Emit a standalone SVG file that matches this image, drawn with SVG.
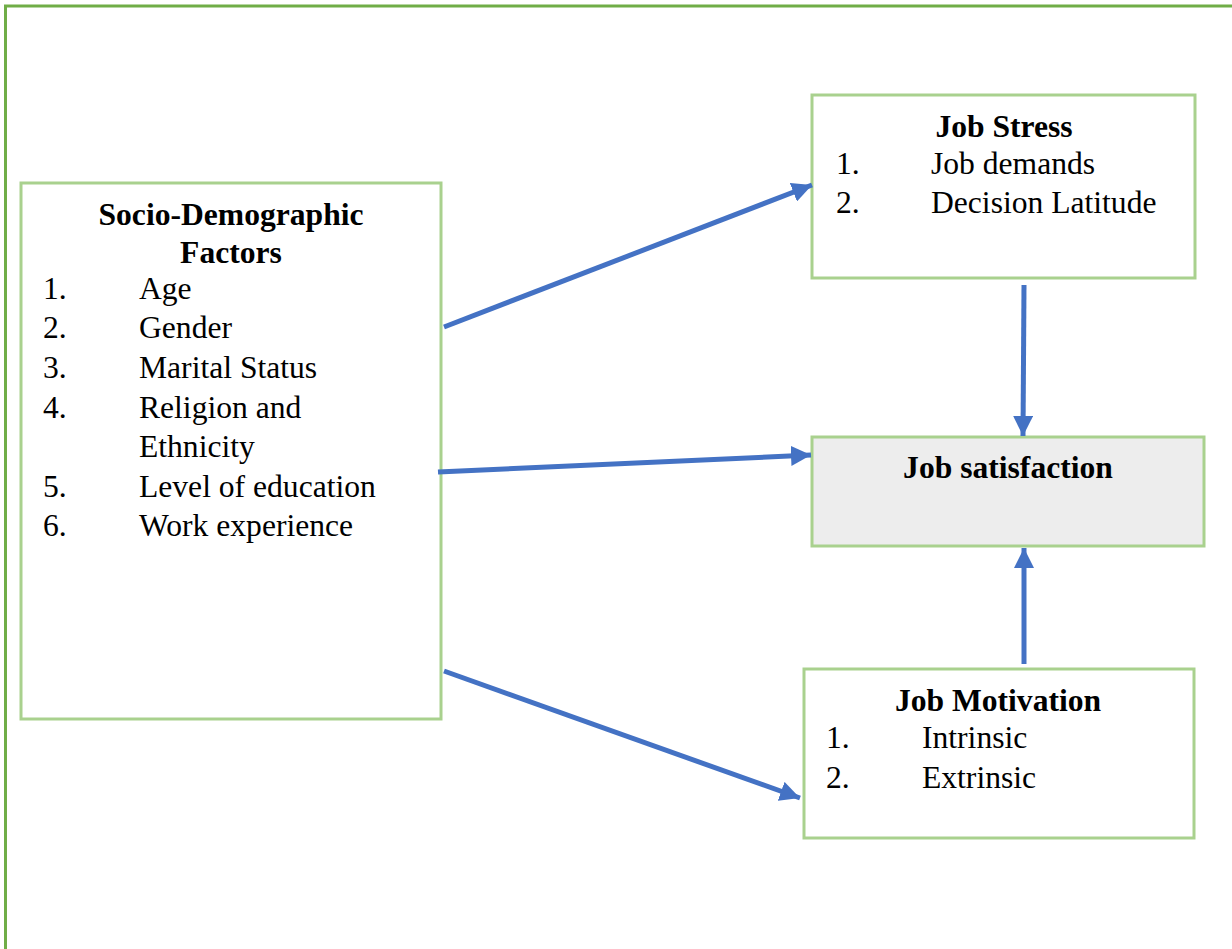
<svg xmlns="http://www.w3.org/2000/svg" width="1232" height="949" viewBox="0 0 1232 949">
<style>
.box{fill:#ffffff;stroke:#A9D18E;stroke-width:3}
.t{font-family:"Liberation Serif","Times New Roman",serif;font-size:31.6px;fill:#000}
.b{font-weight:bold}
.c{text-anchor:middle}
.arr{stroke:#4472C4;stroke-width:5;fill:none;marker-end:url(#ah)}
</style>
<defs>
<marker id="ah" markerUnits="userSpaceOnUse" markerWidth="24" markerHeight="20" refX="20" refY="10" orient="auto">
<path d="M0,0 L20,10 L0,20 Z" fill="#4472C4"/>
</marker>
</defs>
<rect width="1232" height="949" fill="#ffffff"/>
<path d="M5.5,949 L5.5,6 L1232,6" fill="none" stroke="#70AD47" stroke-width="3"/>
<g id="socio">
<rect class="box" x="21" y="183" width="420" height="536"/>
<text class="t b c" x="231" y="225">Socio-Demographic</text>
<text class="t b c" x="231" y="263">Factors</text>
<text class="t" x="43" y="299">1.</text><text class="t" x="139" y="299">Age</text>
<text class="t" x="43" y="338">2.</text><text class="t" x="139" y="338">Gender</text>
<text class="t" x="43" y="378">3.</text><text class="t" x="139" y="378">Marital Status</text>
<text class="t" x="43" y="418">4.</text><text class="t" x="139" y="418">Religion and</text>
<text class="t" x="139" y="457">Ethnicity</text>
<text class="t" x="43" y="497">5.</text><text class="t" x="139" y="497">Level of education</text>
<text class="t" x="43" y="536">6.</text><text class="t" x="139" y="536">Work experience</text>
</g>
<g id="stress">
<rect class="box" x="812" y="95" width="383" height="183"/>
<text class="t b c" x="1004" y="137">Job Stress</text>
<text class="t" x="836" y="174">1.</text><text class="t" x="931" y="174">Job demands</text>
<text class="t" x="836" y="213">2.</text><text class="t" x="931" y="213">Decision Latitude</text>
</g>
<g id="satisfaction">
<rect class="box" x="812" y="437" width="392" height="109" style="fill:#EDEDED"/>
<text class="t b c" x="1008" y="478">Job satisfaction</text>
</g>
<g id="motivation">
<rect class="box" x="804" y="669" width="390" height="169"/>
<text class="t b c" x="998" y="711">Job Motivation</text>
<text class="t" x="826" y="748">1.</text><text class="t" x="922" y="748">Intrinsic</text>
<text class="t" x="826" y="788">2.</text><text class="t" x="922" y="788">Extrinsic</text>
</g>
<g id="connectors">
<line class="arr" x1="444" y1="327" x2="812" y2="185"/>
<line class="arr" x1="438" y1="472" x2="811" y2="455"/>
<line class="arr" x1="444" y1="671" x2="800" y2="798"/>
<line class="arr" x1="1024" y1="285" x2="1023" y2="436"/>
<line class="arr" x1="1024" y1="664" x2="1024" y2="548"/>
</g>
</svg>
